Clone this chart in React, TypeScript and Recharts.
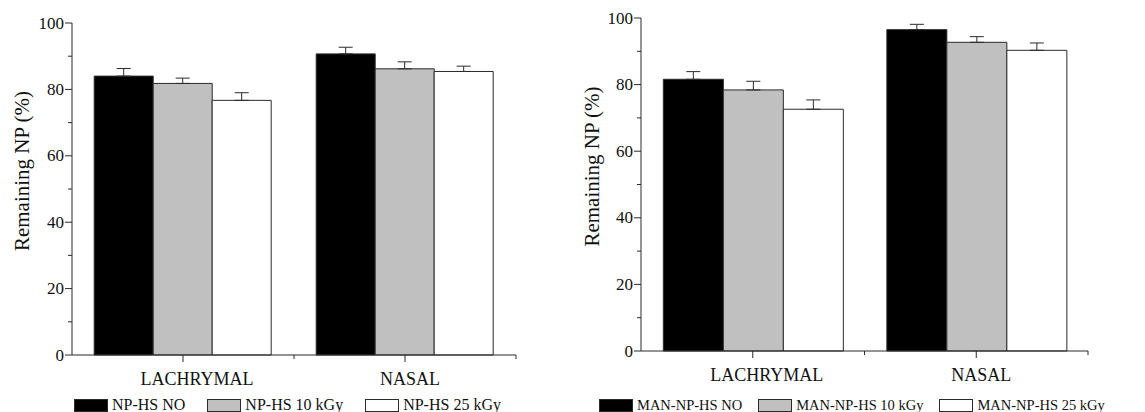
import { Bar, BarChart, ErrorBar, Legend, XAxis, YAxis } from "recharts";

const categories = ["LACHRYMAL", "NASAL"];
const yTicks = [0, 10, 20, 30, 40, 50, 60, 70, 80, 90, 100];

const npLabels = ["NP-HS NO", "NP-HS 10 kGy", "NP-HS 25 kGy"];
const npNo = [84.0, 90.7];
const npNoErr = [2.3, 2.0];
const np10 = [81.8, 86.2];
const np10Err = [1.6, 2.1];
const np25 = [76.7, 85.4];
const np25Err = [2.3, 1.6];

const manLabels = ["MAN-NP-HS NO", "MAN-NP-HS 10 kGy", "MAN-NP-HS 25 kGy"];
const manNo = [81.6, 96.5];
const manNoErr = [2.3, 1.6];
const man10 = [78.4, 92.7];
const man10Err = [2.6, 1.7];
const man25 = [72.6, 90.3];
const man25Err = [2.8, 2.2];

const fills = ["#000000", "#c0c0c0", "#ffffff"];
const INK = "#2b2b2b";
const FONT = "Liberation Serif";
// category labels sit a little right of their ticks in the original
const labelShift = [14, 5];

function buildRows(values: number[][], errors: number[][]) {
  return categories.map((name, i) => ({
    name,
    s0: values[0][i],
    s1: values[1][i],
    s2: values[2][i],
    e0: [0, errors[0][i]],
    e1: [0, errors[1][i]],
    e2: [0, errors[2][i]],
  }));
}

const npRows = buildRows([npNo, np10, np25], [npNoErr, np10Err, np25Err]);
const manRows = buildRows([manNo, man10, man25], [manNoErr, man10Err, man25Err]);

function XTick(props: any) {
  const { x, y, payload, index } = props;
  const half = payload?.offset ?? 0;
  return (
    <g>
      <line x1={x} y1={y} x2={x} y2={y + 7} stroke={INK} />
      {half ? <line x1={x + half} y1={y} x2={x + half} y2={y + 4} stroke={INK} /> : null}
      <text
        x={x + (labelShift[index] ?? 0)}
        y={y + 24}
        textAnchor="middle"
        dominantBaseline="central"
        fontFamily={FONT}
        fontSize={18}
        fill="#111"
      >
        {payload.value}
      </text>
    </g>
  );
}

function YTick(props: any) {
  const { x, y, payload } = props;
  const major = payload.value % 20 === 0;
  return (
    <g>
      <line x1={x} y1={y} x2={x - (major ? 7 : 4)} y2={y} stroke={INK} />
      {major ? (
        <text
          x={x - 8}
          y={y}
          textAnchor="end"
          dominantBaseline="central"
          fontFamily={FONT}
          fontSize={17}
          fill="#111"
        >
          {payload.value}
        </text>
      ) : null}
    </g>
  );
}

function YLabel(props: any) {
  const vb = props.viewBox || { x: 0, y: 0, width: 0, height: 0 };
  const cx = vb.x + 22;
  const cy = vb.y + vb.height / 2 - 18;
  return (
    <text
      x={cx}
      y={cy}
      transform={`rotate(-90, ${cx}, ${cy})`}
      textAnchor="middle"
      dominantBaseline="central"
      fontFamily={FONT}
      fontSize={21}
      fill="#111"
    >
      Remaining NP (%)
    </text>
  );
}

function makeLegend(fontSize: number, gap: number) {
  return function LegendContent(props: any) {
    const payload = props.payload || [];
    return (
      <div
        style={{
          display: "flex",
          alignItems: "center",
          whiteSpace: "nowrap",
          fontFamily: FONT,
          fontSize,
          lineHeight: "14px",
          color: "#111",
        }}
      >
        {payload.map((p: any, i: number) => (
          <div key={i} style={{ display: "flex", alignItems: "center", marginRight: gap }}>
            <span
              style={{
                display: "inline-block",
                width: 34,
                height: 13,
                boxSizing: "border-box",
                background: p.payload?.fill ?? fills[i],
                border: `1px solid ${INK}`,
                marginRight: 4,
              }}
            />
            <span>{p.value}</span>
          </div>
        ))}
      </div>
    );
  };
}

interface PanelProps {
  rows: any[];
  labels: string[];
  left: number;
  width: number;
  axisWidth: number;
  margin: { top: number; right: number; bottom: number };
  legendLeft: number;
  legendFont: number;
  legendGap: number;
}

function Panel({ rows, labels, left, width, axisWidth, margin, legendLeft, legendFont, legendGap }: PanelProps) {
  return (
    <div style={{ position: "absolute", left, top: 0 }}>
      <BarChart
        width={width}
        height={412}
        data={rows}
        margin={{ top: margin.top, right: margin.right, bottom: margin.bottom, left: 0 }}
        barGap={0}
        barCategoryGap="10%"
      >
        <XAxis
          dataKey="name"
          interval={0}
          height={40}
          tickLine={false}
          tickSize={0}
          tickMargin={0}
          axisLine={{ stroke: INK }}
          tick={<XTick />}
        />
        <YAxis
          domain={[0, 100]}
          ticks={yTicks}
          interval={0}
          width={axisWidth}
          tickLine={false}
          tickSize={0}
          tickMargin={0}
          axisLine={{ stroke: INK }}
          tick={<YTick />}
          label={<YLabel />}
        />
        <Legend
          layout="horizontal"
          verticalAlign="middle"
          align="center"
          itemSorter="dataKey"
          wrapperStyle={{ left: legendLeft, top: 398, width: "auto" }}
          content={makeLegend(legendFont, legendGap)}
        />
        {[0, 1, 2].map((k) => (
          <Bar
            key={k}
            dataKey={`s${k}`}
            name={labels[k]}
            fill={fills[k]}
            stroke={INK}
            strokeWidth={1}
            isAnimationActive={false}
          >
            <ErrorBar dataKey={`e${k}`} direction="y" width={7} stroke={INK} strokeWidth={1} />
          </Bar>
        ))}
      </BarChart>
    </div>
  );
}

export default function App() {
  return (
    <div style={{ position: "absolute", left: 0, top: 0, width: 1145, height: 412, background: "#fff" }}>
      <Panel
        rows={npRows}
        labels={npLabels}
        left={0}
        width={560}
        axisWidth={72}
        margin={{ top: 23, right: 44, bottom: 17 }}
        legendLeft={74}
        legendFont={16}
        legendGap={22}
      />
      <Panel
        rows={manRows}
        labels={manLabels}
        left={570}
        width={575}
        axisWidth={71}
        margin={{ top: 18, right: 57, bottom: 21 }}
        legendLeft={29}
        legendFont={14.5}
        legendGap={16}
      />
    </div>
  );
}
